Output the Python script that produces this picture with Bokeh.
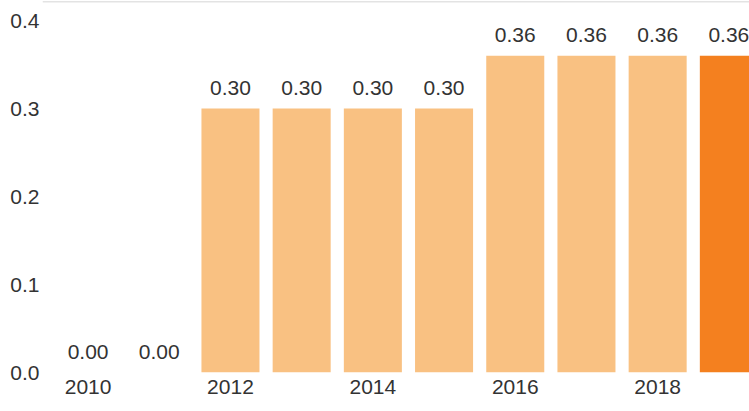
from bokeh.plotting import figure
from bokeh.models import ColumnDataSource, FixedTicker, Span, Range1d, CustomJSTickFormatter
from bokeh.core.properties import value
from bokeh.embed import file_html
from bokeh.resources import INLINE

years = [2010, 2011, 2012, 2013, 2014, 2015, 2016, 2017, 2018, 2019]
values = [0.00, 0.00, 0.30, 0.30, 0.30, 0.30, 0.36, 0.36, 0.36, 0.36]
x_ticks = [2010, 2012, 2014, 2016, 2018]
y_ticks = [0.0, 0.1, 0.2, 0.3, 0.4]

light = "#F9C182"
dark = "#F4801F"
colors = [light] * (len(years) - 1) + [dark]
labels = ["{:.2f}".format(v) for v in values]

src = ColumnDataSource(dict(x=years, top=values, color=colors, label=labels))

FONT = "Liberation Sans"
TXT = "#333333"
FS = "21px"

p = figure(width=749, height=411, output_backend="svg", toolbar_location=None,
           x_range=Range1d(2009.36, 2019.29), y_range=Range1d(0, 0.4216),
           min_border_left=42, min_border_right=0, min_border_top=1, min_border_bottom=39)

p.vbar(x="x", top="top", width=0.815, color="color", line_color=None, source=src)
p.text(x="x", y="top", text="label", source=src, text_align="center", text_baseline="bottom",
       y_offset=-14, text_font=value(FONT), text_font_size=FS, text_color=TXT)

p.add_layout(Span(location=0.4216, dimension="width", line_color="#c8c8c8", line_width=1.5))

p.grid.visible = False
p.outline_line_color = None
p.background_fill_color = "white"
p.border_fill_color = "white"

p.xaxis.ticker = FixedTicker(ticks=x_ticks)
p.yaxis.ticker = FixedTicker(ticks=y_ticks)
p.yaxis.formatter = CustomJSTickFormatter(code="return tick.toFixed(1);")
for ax in (p.xaxis[0], p.yaxis[0]):
    ax.axis_line_color = None
    ax.major_tick_line_color = None
    ax.minor_tick_line_color = None
    ax.major_tick_out = 0
    ax.major_tick_in = 0
    ax.major_label_text_font = FONT
    ax.major_label_text_font_size = FS
    ax.major_label_text_color = TXT
p.xaxis.major_label_standoff = 7
p.yaxis.major_label_standoff = 3

open("out.html", "w").write(file_html(p, INLINE))
